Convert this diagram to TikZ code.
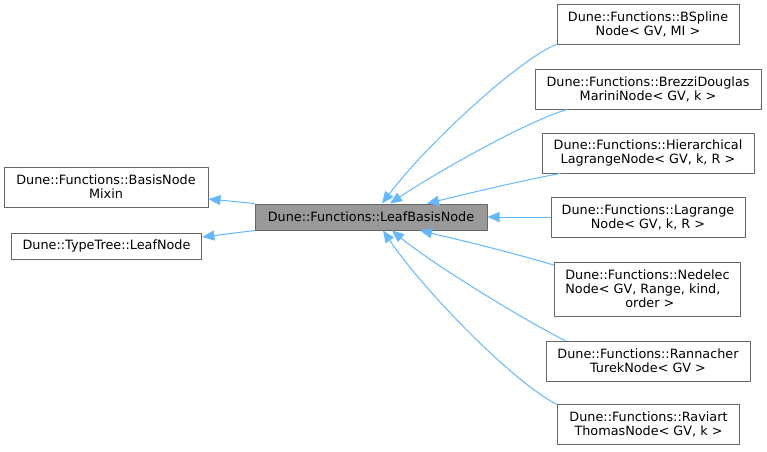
\documentclass[tikz,border=0pt]{standalone}
\usepackage{fontspec}
\setmainfont{DejaVu Sans}
\usetikzlibrary{arrows.meta}
\definecolor{edgeblue}{HTML}{63B8FF}
\definecolor{boxgray}{HTML}{666666}
\definecolor{leafgray}{HTML}{999999}
\begin{document}
\begin{tikzpicture}[x=0.75pt, y=-0.75pt, line cap=round, line join=round,
    cls/.style={draw=boxgray, fill=white, line width=0.75pt, inner sep=0pt, align=center,
      font=\fontsize{9.6}{10.5}\selectfont},
    inh/.style={draw=edgeblue, line width=0.75pt, -{Triangle[length=9pt, width=7.5pt, fill=edgeblue]}}]
    \useasboundingbox (0,0) rectangle (767,451);
    % base classes on the left
    \node[cls, minimum width=153pt, minimum height=30pt] (mixin) at (106,187) {Dune::Functions::BasisNode\\Mixin};
    \node[cls, minimum width=143pt, minimum height=19.5pt] (treeleaf) at (106.5,246) {Dune::TypeTree::LeafNode};
    % the class itself
    \node[cls, fill=leafgray, minimum width=174pt, minimum height=19.5pt] (leaf) at (371,217) {Dune::Functions::LeafBasisNode};
    % derived classes on the right
    \node[cls, minimum width=136.5pt, minimum height=29.5pt] (bspline) at (648,24.5) {Dune::Functions::BSpline\\Node< GV, MI >};
    \node[cls, minimum width=169.5pt, minimum height=30pt] (brezzi) at (648,89) {Dune::Functions::BrezziDouglas\\MariniNode< GV, k >};
    \node[cls, minimum width=159pt, minimum height=30pt] (hier) at (648,153) {Dune::Functions::Hierarchical\\LagrangeNode< GV, k, R >};
    \node[cls, minimum width=145.5pt, minimum height=30pt] (lagrange) at (648,217) {Dune::Functions::Lagrange\\Node< GV, k, R >};
    \node[cls, align=left, minimum width=140pt, minimum height=40.5pt] (nedelec) at (647.5,289) {Dune::Functions::Nedelec\\Node< GV, Range, kind,\\\hspace*{45pt}order >};
    \node[cls, minimum width=153pt, minimum height=30pt] (rannacher) at (648,361) {Dune::Functions::Rannacher\\TurekNode< GV >};
    \node[cls, minimum width=137pt, minimum height=29.5pt] (raviart) at (648.5,424.5) {Dune::Functions::Raviart\\ThomasNode< GV, k >};
    % inheritance edges
    \draw[inh] (leaf.north west) -- (mixin.east |- 0,199);
    \draw[inh] (leaf.south west) -- (treeleaf.east |- 0,237);
    \draw[inh] (bspline.south west) .. controls (525,55) and (430,140) .. (382,0 |- leaf.north);
    \draw[inh] (567,0 |- brezzi.south) .. controls (530,120) and (440,170) .. (390,0 |- leaf.north);
    \draw[inh] (560,0 |- hier.south) .. controls (520,181) and (470,193) .. (427,0 |- leaf.north);
    \draw[inh] (lagrange.west) -- (leaf.east);
    \draw[inh] (nedelec.west |- 0,265) .. controls (510,252) and (460,240) .. (420,0 |- leaf.south);
    \draw[inh] (565,0 |- rannacher.north) .. controls (520,318) and (430,262) .. (392,0 |- leaf.south);
    \draw[inh] (raviart.north west) .. controls (510,380) and (422,288) .. (383,0 |- leaf.south);
  \end{tikzpicture}
\end{document}
